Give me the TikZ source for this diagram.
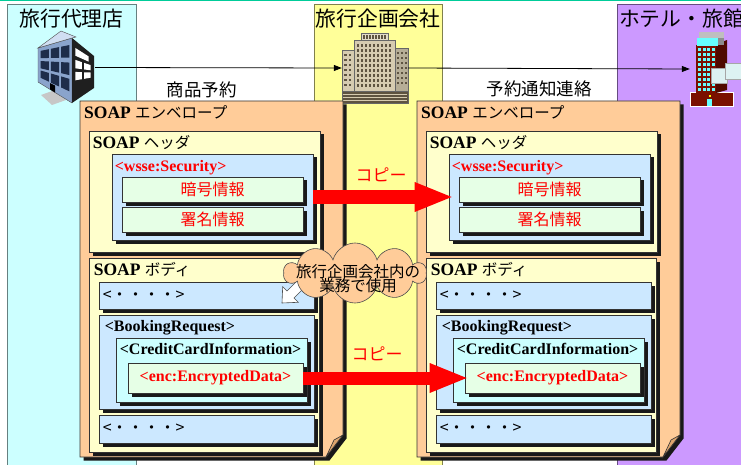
\documentclass[tikz,border=0pt]{standalone}
\usepackage{fontspec}
\setmainfont{Liberation Serif}
\newfontfamily\jp{Noto Sans CJK JP}
\usetikzlibrary{positioning,fit,shadows,shapes.symbols,arrows.meta}

\definecolor{agencybg}{HTML}{CCFFFF}
\definecolor{plannerbg}{HTML}{FFFF99}
\definecolor{hotelbg}{HTML}{CC99FF}
\definecolor{railgreen}{HTML}{00CC99}
\definecolor{envfill}{HTML}{FFCC99}
\definecolor{curlfill}{HTML}{DDA56E}
\definecolor{partfill}{HTML}{FFFFCC}
\definecolor{elemfill}{HTML}{CCE8FF}
\definecolor{cardfill}{HTML}{CCFFFF}
\definecolor{itemfill}{HTML}{E6FFE6}
\definecolor{officeblue}{HTML}{8AA4CC}
\definecolor{officeroof}{HTML}{D0DEF2}
\definecolor{officewin}{HTML}{1E2D4A}
\definecolor{stone}{HTML}{D6CBB0}
\definecolor{stonedark}{HTML}{5E5340}
\definecolor{brick}{HTML}{7A1000}
\definecolor{glass}{HTML}{66FFFF}
\definecolor{wingfill}{HTML}{DDF2F2}

% japanese part of the SOAP labels
\newcommand\jpsmall[1]{{\jp\mdseries\fontsize{15.5}{18}\selectfont #1}}

\begin{document}
\begin{tikzpicture}[x=1pt, y=-1pt,
    declare function={fy(\p,\q)=48-10*\p+\q*(34+31*\p); gy(\p,\q)=38+18*\p+\q*(65-33*\p);},
    lane/.style={draw=#1!50!black, fill=#1, line width=0.8pt, inner sep=0pt},
    lanetitle/.style={font=\jp\fontsize{20.8}{24}\selectfont, inner sep=0pt},
    flow/.style={-{Triangle[length=8pt,width=6pt]}, line width=0.8pt},
    flowlabel/.style={font=\jp\fontsize{17.5}{20}\selectfont, inner sep=0pt},
    boxshadow/.style={drop shadow={shadow xshift=3.5pt, shadow yshift=-3.5pt, fill=black!90, opacity=1}},
    envbox/.style={fill=envfill, draw=black!80, line width=0.7pt, boxshadow},
    partbox/.style={fill=partfill, draw=black!80, line width=0.7pt, inner sep=0pt, boxshadow},
    elembox/.style={fill=elemfill, draw=black!80, line width=0.7pt, inner sep=0pt, boxshadow},
    itembox/.style={fill=itemfill, draw=black!80, line width=0.7pt, inner sep=0pt, boxshadow},
    partlabel/.style={font=\fontsize{17.5}{20}\selectfont\bfseries, inner sep=0pt},
    tagtext/.style={font=\fontsize{16}{18}\selectfont\bfseries, inner sep=0pt},
    itemtext/.style={font=\jp\fontsize{16}{18}\selectfont, text=red, inner sep=0pt},
    dotstext/.style={font=\jp\fontsize{16}{18}\selectfont, inner sep=0pt},
    copyarrow/.style={draw=red, line width=13pt, -{Triangle[length=37pt,width=30pt,line width=0pt 0]}},
    copylabel/.style={font=\jp\fontsize{17}{20}\selectfont, text=red, inner sep=0pt},
    memotext/.style={font=\jp\fontsize{15.5}{14.5}\selectfont, align=center, inner sep=0pt}
]
    \useasboundingbox (0,0) rectangle (741,465);
    \clip (0,0) rectangle (741,465);
    \fill[white] (0,0) rectangle (741,465);
    \draw[railgreen, line width=1.5pt] (0,0.7) -- (741,0.7);

    % swim lanes
    \node[lane=agencybg, fit={(7,4) (136,470)}] (agency) {};
    \node[lane=plannerbg, fit={(314,4) (442,470)}] (planner) {};
    \node[lane=hotelbg, fit={(617,4) (746,470)}] (hotel) {};
    \node[lanetitle, below=5pt of agency.north] (agencyTitle) {旅行代理店};
    \node[lanetitle, below=5pt of planner.north] (plannerTitle) {旅行企画会社};
    \node[lanetitle, below=5pt of hotel.north] (hotelTitle) {ホテル・旅館};

    % office building
    \fill[black!22] (41,95) -- (55,90) -- (66,100) -- (52,105) -- cycle;
    \fill[officeblue, draw=black!70, line width=0.4pt] (38,48) -- (72,38) -- (72,103) -- (38,82) -- cycle;
    \fill[black!88] (72,38) -- (94,56) -- (94,88) -- (72,103) -- cycle;
    \fill[officeroof, draw=black!70, line width=0.4pt] (38,48) -- (61,31) -- (76,37) -- (72,38) -- cycle;
    \foreach \i in {0.08,0.38,0.68} \foreach \j in {0.1,0.38,0.64}
        \fill[officewin] ({38+34*\i},{fy(\i,\j)}) -- ({38+34*(\i+.24)},{fy(\i+.24,\j)})
            -- ({38+34*(\i+.24)},{fy(\i+.24,\j+.2)}) -- ({38+34*\i},{fy(\i,\j+.2)}) -- cycle;
    \fill[black] ({38+34*.36},{fy(.36,.86)}) -- ({38+34*.5},{fy(.5,.86)}) -- ({38+34*.5},{fy(.5,1)}) -- ({38+34*.36},{fy(.36,1)}) -- cycle;
    \foreach \i/\j/\w/\h in {.15/.12/.6/.13, .15/.32/.3/.14, .55/.32/.3/.14, .15/.52/.3/.14, .55/.52/.3/.14}
        \fill[white] ({72+22*\i},{gy(\i,\j)}) -- ({72+22*(\i+\w)},{gy(\i+\w,\j)})
            -- ({72+22*(\i+\w)},{gy(\i+\w,\j+\h)}) -- ({72+22*\i},{gy(\i,\j+\h)}) -- cycle;
    \node[inner sep=0pt, fit={(36,30) (95,105)}] (agencyBldg) {};

    % head office
    \fill[stone, draw=black!60, line width=0.4pt] (342,50) rectangle (354,103);
    \fill[stone!85!black, draw=black!60, line width=0.4pt] (395,48) rectangle (408,103);
    \fill[stone, draw=black!60, line width=0.4pt] (354,40) rectangle (395,103);
    \fill[stone!70!white, draw=black!60, line width=0.4pt] (361,33) rectangle (388,40);
    \foreach \wx in {363,366,...,385} \fill[stonedark] (\wx,35) rectangle +(1.5,4);
    \foreach \wx in {357,361,...,391} \foreach \wy in {44,49,...,84} \fill[stonedark] (\wx,\wy) rectangle +(2,3);
    \foreach \wx in {344,348.5} \foreach \wy in {54,59,...,84} \fill[stonedark] (\wx,\wy) rectangle +(2.5,2.5);
    \foreach \wx in {397,401,405} \foreach \wy in {52,57,...,84} \fill[stonedark] (\wx,\wy) rectangle +(1.8,2.5);
    \fill[stonedark, draw=black!60, line width=0.4pt] (342,91) rectangle (408,103);
    \foreach \wy in {94,97,100} \draw[stone, line width=0.6pt] (343,\wy) -- (407,\wy);
    \node[inner sep=0pt, fit={(342,33) (408,103)}] (plannerBldg) {};

    % hotel tower
    \fill[brick, draw=white, line width=0.6pt] (690,92) rectangle (733,106);
    \fill[brick!65!black] (716,44) -- (727,40) -- (727,90) -- (716,93) -- cycle;
    \fill[brick] (696,45) rectangle (716,93);
    \foreach \wx in {698,702.5,707,711.5} \foreach \wy in {48,53,...,88} \fill[glass] (\wx,\wy) rectangle +(3,3);
    \fill[black!25] (699,32) rectangle (724,38);
    \fill[glass] (697,38) rectangle (718,46);
    \fill[black!45] (718,38) rectangle (724,45);
    \fill[wingfill, draw=black!35, line width=0.4pt] (711,68) rectangle (727,83);
    \fill[wingfill, draw=black!35, line width=0.4pt] (725,63) rectangle (741,79);
    \fill[glass] (707,99) rectangle (712,106);
    \fill[yellow] (708.5,95.5) rectangle (710.5,97.5);
    \node[inner sep=0pt, fit={(690,32) (741,106)}] (hotelBldg) {};

    \draw[flow] (agencyBldg.east) -- (plannerBldg.west) node[flowlabel, midway, below=14pt, xshift=-17pt] (orderLabel) {商品予約};
    \draw[flow] (plannerBldg.east) -- (hotelBldg.west) node[flowlabel, midway, below=12pt, xshift=-10pt] (noticeLabel) {予約通知連絡};

    % the same SOAP envelope on both sides
    \foreach \s/\dx in {L/0, R/337} {
    \begin{scope}[xshift=\dx]
        \path[envbox] (80,101) -- (343,101) -- (343,435) -- (326,457) -- (80,457) -- cycle;
        \fill[curlfill, draw=black!80, line width=0.6pt] (343,435) -- (334,440) -- (326,457) -- cycle;
        \coordinate (env\s) at (80,101);
        \node[partlabel, below right=18pt and 4pt of env\s, anchor=base west] (envLabel\s) {SOAP \jpsmall{エンベロープ}};

        % header
        \node[partbox, fit={(89,131) (320,252)}] (hdr\s) {};
        \node[partlabel, below right=18pt and 4pt of hdr\s.north west, anchor=base west] (hdrLabel\s) {SOAP \jpsmall{ヘッダ}};
        \node[elembox, fit={(112,154) (313,240)}] (sec\s) {};
        \node[tagtext, text=red, below right=18pt and 3pt of sec\s.north west, anchor=base west] (secLabel\s) {<wsse:Security>};
        \node[itembox, fit={(122,177) (303,202)}] (cipher\s) {};
        \node[itemtext] (cipherText\s) at (cipher\s) {暗号情報};
        \node[itembox, fit={(122,207) (303,232)}] (sign\s) {};
        \node[itemtext] (signText\s) at (sign\s) {署名情報};

        % body
        \node[partbox, fit={(89,258) (319,452)}] (body\s) {};
        \node[partlabel, below right=18pt and 5pt of body\s.north west, anchor=base west] (bodyLabel\s) {SOAP \jpsmall{ボディ}};
        \node[elembox, fit={(99,282) (314,309)}] (lead\s) {};
        \node[dotstext, right=4pt of lead\s.west] (leadDots\s) {<・・・・>};
        \node[elembox, fit={(99,315) (314,409)}] (booking\s) {};
        \node[tagtext, below right=17pt and 6pt of booking\s.north west, anchor=base west] (bookingLabel\s) {<BookingRequest>};
        \node[elembox, fill=cardfill, fit={(116,338) (307,402)}] (card\s) {};
        \node[tagtext, below right=17pt and 4pt of card\s.north west, anchor=base west] (cardLabel\s) {<CreditCardInformation>};
        \node[itembox, fit={(128,363) (303,393)}] (enc\s) {};
        \node[tagtext, text=red] (encLabel\s) at (enc\s) {<enc:EncryptedData>};
        \node[elembox, fit={(99,415) (314,443)}] (trail\s) {};
        \node[dotstext, right=4pt of trail\s.west] (trailDots\s) {<・・・・>};
    \end{scope}
    }

    % note for internal use
    \fill[white, draw=black!70, line width=0.6pt] (282,303) -- (298.3,302.3) -- (294,298) -- (306.7,285.3)
        -- (299.7,278.3) -- (287,291) -- (282.7,286.7) -- cycle;
    \node[cloud, cloud puffs=10, cloud ignores aspect, minimum width=142pt, minimum height=60pt,
        fill=envfill, draw=black!70, line width=0.6pt] (memo) at (355,273) {};
    \node[memotext] (memoText) at (358,278.5) {旅行企画会社内の\\業務で使用};

    \draw[copyarrow, shorten >=-3pt] (secL.east) -- (secL.east -| secR.west) node[copylabel, midway, above=8.5pt] (copyTop) {コピー};
    \draw[copyarrow, shorten >=-2pt] (encL.east) -- (encL.east -| encR.west) node[copylabel, midway, above=11pt, xshift=-7pt] (copyBottom) {コピー};
\end{tikzpicture}
\end{document}
